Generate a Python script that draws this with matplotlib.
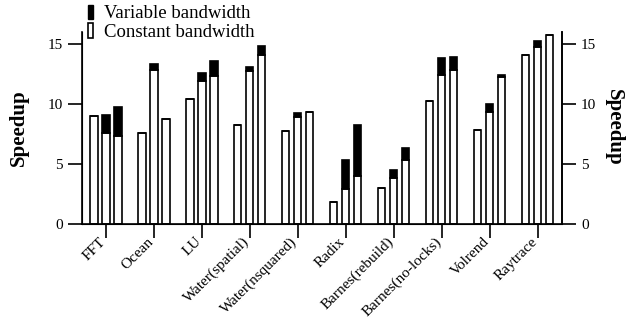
import matplotlib
matplotlib.use("agg")
import matplotlib.pyplot as plt
import matplotlib.transforms as mtransforms
from matplotlib.patches import Patch
import numpy as np

benchmarks = ["FFT", "Ocean", "LU", "Water(spatial)", "Water(nsquared)", "Radix",
              "Barnes(rebuild)", "Barnes(no-locks)", "Volrend", "Raytrace"]

# constant bandwidth speedup, three configurations per benchmark
constant = [
    [9.0, 7.6, 7.3],
    [7.6, 12.8, 8.7],
    [10.4, 11.9, 12.3],
    [8.2, 12.7, 14.1],
    [7.7, 8.9, 9.3],
    [1.8, 2.9, 4.0],
    [3.0, 3.8, 5.3],
    [10.2, 12.4, 12.8],
    [7.8, 9.3, 12.2],
    [14.1, 14.7, 15.7],
]
# total speedup with variable bandwidth (top of the black segment)
variable = [
    [9.0, 9.1, 9.7],
    [7.6, 13.3, 8.7],
    [10.4, 12.6, 13.6],
    [8.2, 13.1, 14.8],
    [7.7, 9.2, 9.3],
    [1.8, 5.3, 8.2],
    [3.0, 4.5, 6.3],
    [10.2, 13.8, 13.9],
    [7.8, 10.0, 12.4],
    [14.1, 15.2, 15.7],
]

plt.rcParams["font.family"] = ["Liberation Serif", "DejaVu Serif"]

fig = plt.figure(figsize=(6.32, 3.30), dpi=100)
ax = fig.add_axes([0.1297, 0.3212, 0.7591, 0.5828])

const = np.array(constant)
var = np.array(variable)
x = np.arange(len(benchmarks))
width = 0.15
for i, off in enumerate([-0.25, 0.0, 0.25]):
    ax.bar(x + off, const[:, i], width, color="white", edgecolor="black", linewidth=1.2)
    ax.bar(x + off, var[:, i] - const[:, i], width, bottom=const[:, i],
           color="black", edgecolor="black", linewidth=1.2)

ax.set_xlim(-0.5, 9.5)
ax.set_ylim(0, 16)
ax.set_yticks([0, 5, 10, 15])
ax.set_xticks(x)
ax.set_xticklabels(benchmarks, rotation=45, ha="right", fontsize=11)
ax.tick_params(axis="both", direction="out", length=10, width=1.2, labelsize=11)
ax.tick_params(axis="y", pad=4)
ax.tick_params(axis="x", pad=0)
# nudge the rotated labels a little right, like the original
shift = mtransforms.ScaledTranslation(2 / 100, 3 / 100, fig.dpi_scale_trans)
for lbl in ax.get_xticklabels():
    lbl.set_transform(lbl.get_transform() + shift)
ax.spines["top"].set_visible(False)
for s in ["left", "right", "bottom"]:
    ax.spines[s].set_linewidth(1.2)
ax.set_ylabel("Speedup", fontsize=15, fontweight="bold", labelpad=13)

ax2 = ax.twinx()
ax2.set_ylim(0, 16)
ax2.set_yticks([0, 5, 10, 15])
ax2.tick_params(axis="y", direction="out", length=10, width=1.2, labelsize=11, pad=4)
ax2.spines["top"].set_visible(False)
ax2.spines["right"].set_linewidth(1.2)
ax2.set_ylabel("Speedup", fontsize=15, fontweight="bold", rotation=270, labelpad=20)

handles = [Patch(facecolor="black", edgecolor="black", label="Variable bandwidth"),
           Patch(facecolor="white", edgecolor="black", linewidth=1.2, label="Constant bandwidth")]
fig.legend(handles=handles, loc="upper left", bbox_to_anchor=(0.127, 1.009),
           frameon=False, fontsize=13.5, handlelength=0.3, handleheight=0.85,
           handletextpad=0.55, labelspacing=0.05, borderaxespad=0.0)

fig.savefig("out.png", dpi=100)
